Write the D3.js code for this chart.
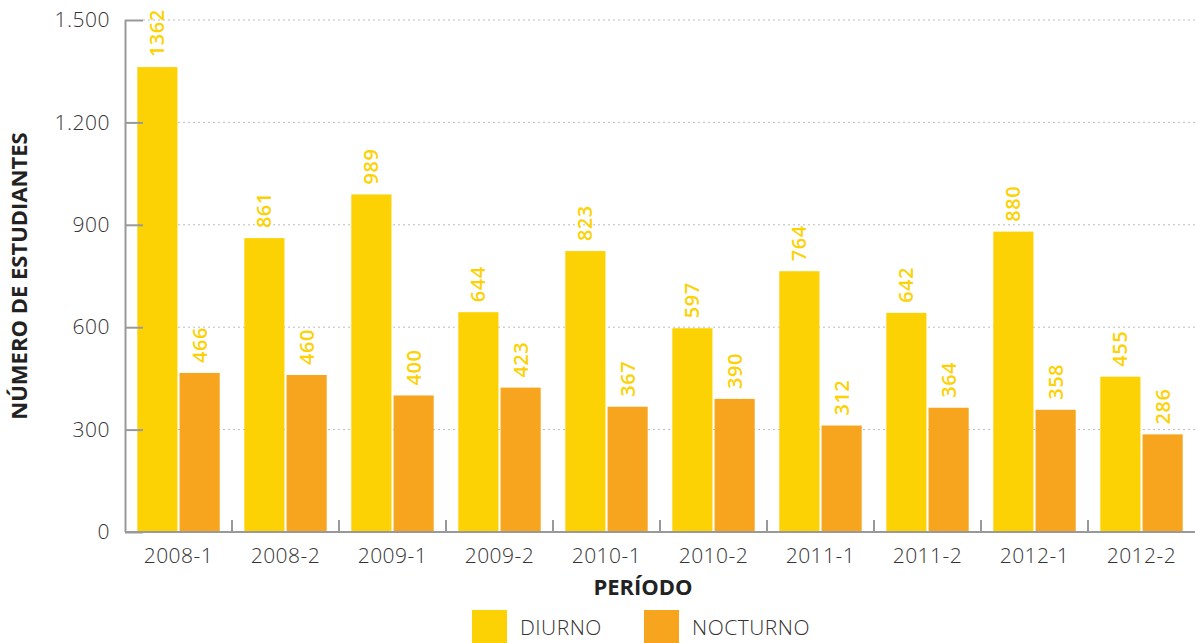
<!DOCTYPE html>
<meta charset="utf-8">
<style>
    body { margin: 0; background: #fff; }
    text { font-family: "Open Sans", sans-serif; }
    .tick text { font-weight: 300; fill: #333; font-size: 21px; letter-spacing: 0.5px; }
    .grid line { stroke: #bbb; stroke-dasharray: 2,3; }
    .val { fill: #fcd205; font-weight: 600; font-size: 20px; letter-spacing: 0.5px; }
    .title { font-weight: 700; font-size: 22px; fill: #222; }
</style>
<svg id="chart" width="1196" height="643"></svg>
<script src="https://d3js.org/d3.v7.min.js"></script>
<script>
    var periodos = ["2008-1", "2008-2", "2009-1", "2009-2", "2010-1", "2010-2", "2011-1", "2011-2", "2012-1", "2012-2"];
    var diurno = [1362, 861, 989, 644, 823, 597, 764, 642, 880, 455];
    var nocturno = [466, 460, 400, 423, 367, 390, 312, 364, 358, 286];
    var series = ["DIURNO", "NOCTURNO"];
    var yTicks = [0, 300, 600, 900, 1200, 1500];

    var svg = d3.select("#chart"),
        margin = {top: 20, right: 1, bottom: 111, left: 125},
        width = +svg.attr("width") - margin.left - margin.right,
        height = +svg.attr("height") - margin.top - margin.bottom;

    var color = d3.scaleOrdinal().domain(series).range(["#fcd205", "#f7a51e"]);
    var fmt = d3.formatLocale({decimal: ",", thousands: ".", grouping: [3], currency: ["", ""]}).format(",");

    var x0 = d3.scaleBand().domain(periodos).range([0, width]).paddingInner(0.23).paddingOuter(0.115);
    var x1 = d3.scaleBand().domain(series).range([0, x0.bandwidth()]).paddingInner(0.05);
    var y = d3.scaleLinear().domain([0, 1500]).range([height, 0]);

    var g = svg.append("g").attr("transform", "translate(" + margin.left + "," + margin.top + ")");

    // dotted gridlines
    g.append("g").attr("class", "grid")
        .selectAll("line").data(yTicks.slice(1)).enter().append("line")
        .attr("x1", 18).attr("x2", width)
        .attr("y1", d => y(d)).attr("y2", d => y(d));

    var data = periodos.map((p, i) => ({p: p, vals: [{k: "DIURNO", v: diurno[i]}, {k: "NOCTURNO", v: nocturno[i]}]}));

    var grp = g.append("g").selectAll("g").data(data).enter().append("g")
        .attr("transform", d => "translate(" + x0(d.p) + ",0)");

    grp.selectAll("rect").data(d => d.vals).enter().append("rect")
        .attr("x", d => x1(d.k))
        .attr("width", x1.bandwidth())
        .attr("y", d => y(d.v))
        .attr("height", d => height - y(d.v))
        .attr("fill", d => color(d.k));

    grp.selectAll("text.val").data(d => d.vals).enter().append("text")
        .attr("class", "val")
        .attr("transform", d => "translate(" + (x1(d.k) + x1.bandwidth() / 2 + 7) + "," + (y(d.v) - 10) + ") rotate(-90)")
        .text(d => d.v);

    // y axis
    var yAxis = g.append("g")
        .call(d3.axisLeft(y).tickValues(yTicks).tickFormat(fmt).tickSize(-18).tickPadding(14));
    yAxis.select(".domain").attr("stroke", "#999").attr("stroke-width", 2).attr("d", "M0.5,0V" + height);
    yAxis.selectAll(".tick line").attr("stroke", "#999").attr("stroke-width", 2);
    yAxis.selectAll(".tick text").attr("x", -15);

    // x axis
    var xb = g.append("g").attr("transform", "translate(0," + height + ")");
    xb.append("line").attr("x1", 0).attr("x2", width).attr("stroke", "#999").attr("stroke-width", 2);
    xb.selectAll("line.sep").data(periodos.slice(1)).enter().append("line")
        .attr("x1", d => x0(d) - x0.step() * x0.paddingInner() / 2)
        .attr("x2", d => x0(d) - x0.step() * x0.paddingInner() / 2)
        .attr("y1", 0).attr("y2", -12)
        .attr("stroke", "#999").attr("stroke-width", 2);
    xb.selectAll("text").data(periodos).enter().append("text")
        .attr("x", d => x0(d) + x0.bandwidth() / 2)
        .attr("y", 31)
        .attr("text-anchor", "middle")
        .style("font-weight", 300).style("font-size", "21px").style("fill", "#333").style("letter-spacing", "0.5px")
        .text(d => d);

    // titles
    svg.append("text").attr("class", "title")
        .attr("transform", "translate(27," + (margin.top + height / 2) + ") rotate(-90)")
        .attr("text-anchor", "middle").text("NÚMERO DE ESTUDIANTES");
    svg.append("text").attr("class", "title")
        .attr("x", 643).attr("y", 595).attr("text-anchor", "middle").text("PERÍODO");

    // legend
    var leg = svg.append("g").selectAll("g").data(series).enter().append("g")
        .attr("transform", (d, i) => "translate(" + (472 + i * 172) + ",610)");
    leg.append("rect").attr("width", 35).attr("height", 33).attr("fill", d => color(d));
    leg.append("text").attr("x", 48).attr("y", 25)
        .style("font-weight", 300).style("font-size", "21px").style("fill", "#333").style("letter-spacing", "0.5px")
        .text(d => d);
</script>
